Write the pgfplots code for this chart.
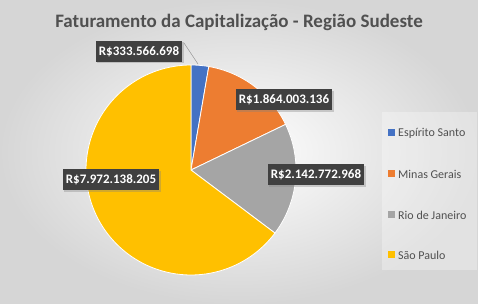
\documentclass[border=0pt]{standalone}
\usepackage{pgfplots}
\usepackage{pgfplotstable}
\pgfplotsset{compat=1.18}
\usepackage{fontspec}
\setmainfont{Carlito}
\usetikzlibrary{shadows}
\definecolor{cES}{HTML}{4472C4}
\definecolor{cMG}{HTML}{ED7D31}
\definecolor{cRJ}{HTML}{A5A5A5}
\definecolor{cSP}{HTML}{FFC000}
\definecolor{txt}{HTML}{505050}
\definecolor{lbl}{HTML}{404040}
% values in millions of R$
\pgfplotstableread{
estado valor
ES 333.566698
MG 1864.003136
RJ 2142.772968
SP 7972.138205
}\dados
\begin{document}%
\begin{tikzpicture}
\pgfplotstablegetelem{0}{valor}\of\dados \let\vA\pgfplotsretval
\pgfplotstablegetelem{1}{valor}\of\dados \let\vB\pgfplotsretval
\pgfplotstablegetelem{2}{valor}\of\dados \let\vC\pgfplotsretval
\pgfplotstablegetelem{3}{valor}\of\dados \let\vD\pgfplotsretval
\pgfmathsetmacro\tot{\vA+\vB+\vC+\vD}
\pgfmathsetmacro\aA{90-360*(\vA/\tot)}
\pgfmathsetmacro\aB{\aA-360*(\vB/\tot)}
\pgfmathsetmacro\aC{\aB-360*(\vC/\tot)}
\pgfmathsetmacro\aD{\aC-360*(\vD/\tot)}
\begin{axis}[width=478bp,height=304bp,scale only axis,hide axis,
  xmin=0,xmax=478,ymin=0,ymax=304,clip=false]
\shade[inner color=white, outer color=black!16] (0,0) rectangle (478,304);
\fill[white,opacity=0.3] (382,34) rectangle (477,192);
\addplot[fill=cES,draw=white,line width=0.8pt,domain=\aA:90,samples=20,variable=\t]
  ({191+105*cos(\t)},{134+105*sin(\t)}) -- (191,134) -- cycle;
\addplot[fill=cMG,draw=white,line width=0.8pt,domain=\aB:\aA,samples=40,variable=\t]
  ({191+105*cos(\t)},{134+105*sin(\t)}) -- (191,134) -- cycle;
\addplot[fill=cRJ,draw=white,line width=0.8pt,domain=\aC:\aB,samples=40,variable=\t]
  ({191+105*cos(\t)},{134+105*sin(\t)}) -- (191,134) -- cycle;
\addplot[fill=cSP,draw=white,line width=0.8pt,domain=\aD:\aC,samples=100,variable=\t]
  ({191+105*cos(\t)},{134+105*sin(\t)}) -- (191,134) -- cycle;
\draw[gray] (184,261) -- (198,240);
\tikzset{lab/.style={fill=lbl,text=white,font=\bfseries\fontsize{13bp}{15bp}\selectfont,
  drop shadow={opacity=0.35,shadow xshift=1.5bp,shadow yshift=-1.5bp},inner sep=3bp,minimum height=21bp}}
\node[lab] at (139,252.5) {R\$333.566.698};
\node[lab] at (284,204) {R\$1.864.003.136};
\node[lab] at (316,129) {R\$2.142.772.968};
\node[lab] at (111,124) {R\$7.972.138.205};
\node[text=txt,font=\bfseries\fontsize{19bp}{21bp}\selectfont] at (239,282) {Faturamento da Capitalização - Região Sudeste};
\tikzset{leg/.style={anchor=west,text=txt,font=\fontsize{12bp}{14bp}\selectfont,inner sep=0pt}}
\fill[cES] (388,167.5) rectangle (395,174.5); \node[leg] at (398,171) {Espírito Santo};
\fill[cMG] (388,126.5) rectangle (395,133.5); \node[leg] at (398,130) {Minas Gerais};
\fill[cRJ] (388,85.5) rectangle (395,92.5); \node[leg] at (398,89) {Rio de Janeiro};
\fill[cSP] (388,45.5) rectangle (395,52.5); \node[leg] at (398,49) {São Paulo};
\end{axis}
\end{tikzpicture}%
\end{document}
